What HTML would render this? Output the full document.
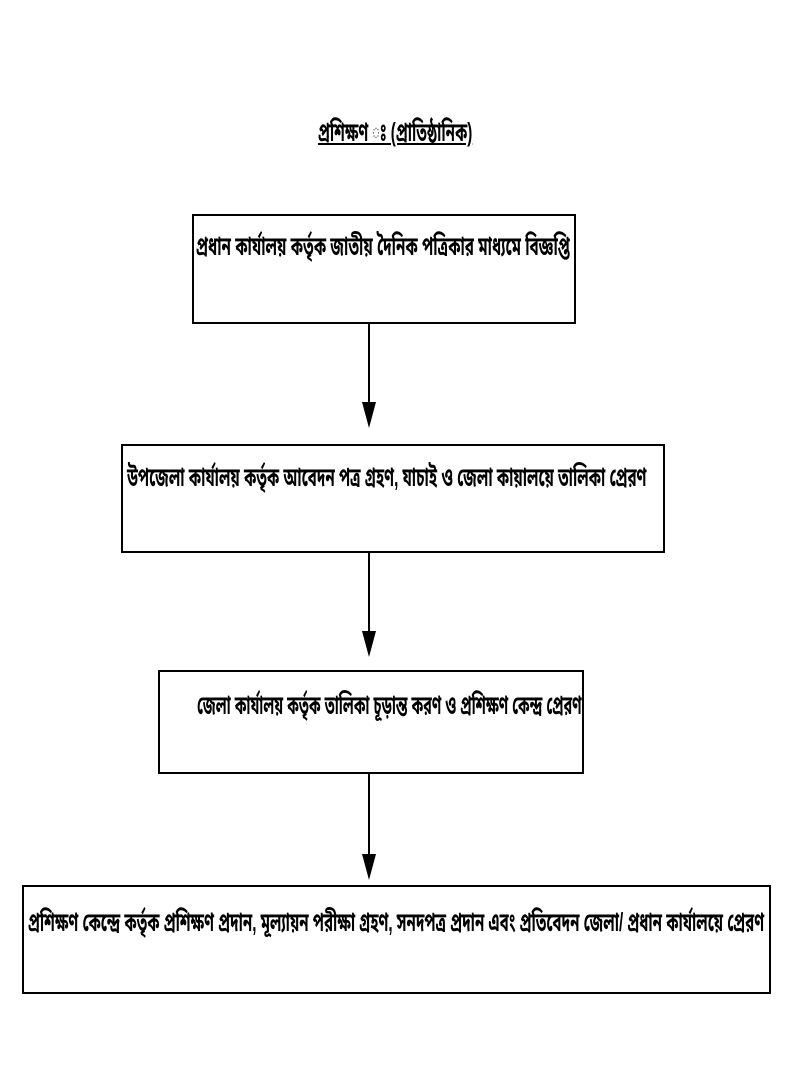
<!DOCTYPE html>
<html><head><meta charset="utf-8"><style>
body{margin:0;width:800px;height:1079px;background:#fff;position:relative;overflow:hidden;font-family:"Liberation Sans","Noto Sans Bengali","Lohit Bengali",sans-serif;}
.b{position:absolute;border:2px solid #000;box-sizing:border-box;}
.t{position:absolute;white-space:nowrap;font-size:26px;font-weight:bold;color:#000;transform-origin:left top;line-height:32px;}
.v{position:absolute;width:2px;background:#000;}
.h{position:absolute;width:0;height:0;border-left:7px solid transparent;border-right:7px solid transparent;border-top:26px solid #000;}
</style></head><body>
<div class="t" style="left:318px;top:116px;text-decoration:underline;transform:scaleX(0.58);">প্রশিক্ষণ ঃ (প্রাতিষ্ঠানিক)</div>

<div class="b" style="left:192px;top:214px;width:384px;height:110px;"></div>
<div class="t" style="left:196px;top:230px;transform:scaleX(0.585);">প্রধান কার্যালয় কর্তৃক জাতীয় দৈনিক পত্রিকার মাধ্যমে বিজ্ঞপ্তি</div>
<div class="v" style="left:368px;top:323px;height:80px;"></div>
<div class="h" style="left:362px;top:402px;"></div>

<div class="b" style="left:121px;top:444px;width:544px;height:109px;"></div>
<div class="t" style="left:127px;top:461px;transform:scaleX(0.582);">উপজেলা কার্যালয় কর্তৃক আবেদন পত্র গ্রহণ, যাচাই ও জেলা কায়ালয়ে তালিকা প্রেরণ</div>
<div class="v" style="left:368px;top:552px;height:80px;"></div>
<div class="h" style="left:362px;top:631px;"></div>

<div class="b" style="left:158px;top:670px;width:426px;height:104px;"></div>
<div class="t" style="left:197px;top:689px;transform:scaleX(0.553);">জেলা কার্যালয় কর্তৃক তালিকা চূড়ান্ত করণ ও প্রশিক্ষণ কেন্দ্র প্রেরণ</div>
<div class="v" style="left:368px;top:773px;height:82px;"></div>
<div class="h" style="left:362px;top:854px;"></div>

<div class="b" style="left:22px;top:885px;width:749px;height:109px;"></div>
<div class="t" style="left:28px;top:906px;transform:scaleX(0.58);">প্রশিক্ষণ কেন্দ্রে কর্তৃক প্রশিক্ষণ প্রদান, মূল্যায়ন পরীক্ষা গ্রহণ, সনদপত্র প্রদান এবং প্রতিবেদন জেলা/ প্রধান কার্যালয়ে প্রেরণ</div>
</body></html>
